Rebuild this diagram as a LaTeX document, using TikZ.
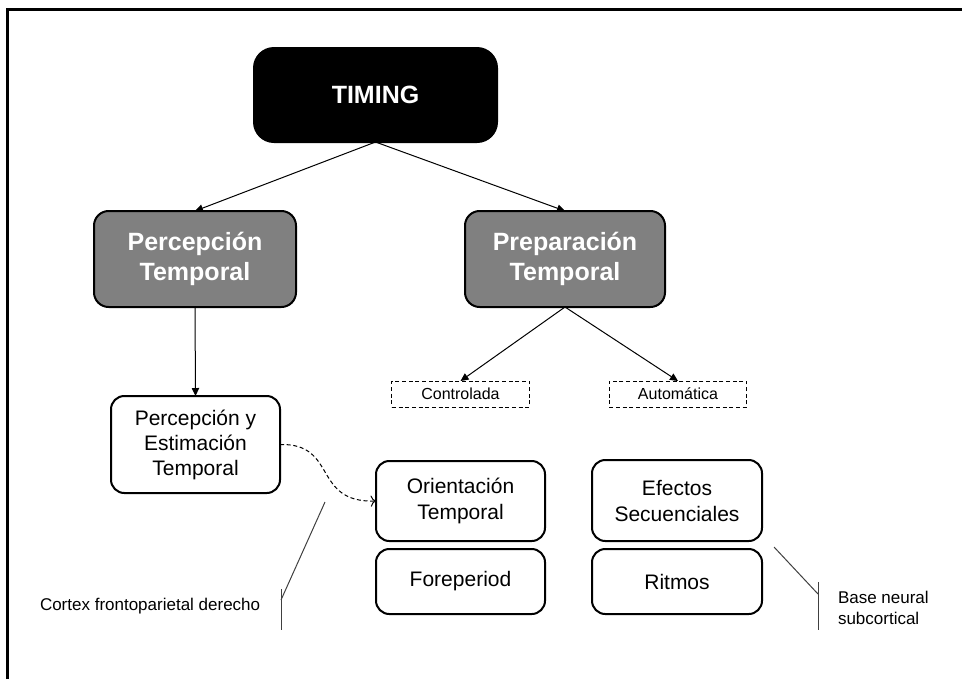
\documentclass[tikz,border=0pt]{standalone}
\usepackage{fontspec}
\setmainfont{Liberation Sans}
\usetikzlibrary{arrows.meta}
\tikzset{
  mainbox/.style={draw=black,line width=1.5pt,rounded corners=11pt,align=center,
    text=white,font=\bfseries\fontsize{18.75}{22.5}\selectfont},
  subbox/.style={draw=black,fill=white,line width=1.5pt,rounded corners=10pt,
    align=center,font=\fontsize{15.75}{19.5}\selectfont,minimum width=126.75pt},
  optbox/.style={draw=black,line width=0.75pt,dash pattern=on 3pt off 2pt,
    font=\fontsize{12}{14}\selectfont,minimum width=103pt,minimum height=19.5pt},
  link/.style={draw=black,line width=0.75pt,-{Triangle[length=6pt,width=5.5pt]}},
  note/.style={font=\fontsize{12.75}{15.75}\selectfont,align=left},
  callout/.style={draw=black!75,line width=0.75pt},
}

\begin{document}
\begin{tikzpicture}[y=0.75pt, x=0.75pt, yscale=-1.000000, xscale=1.000000, inner sep=0pt, outer sep=0pt]
  \useasboundingbox (0,0) rectangle (962,679);
  % frame
  \path[draw=black,line width=2.25pt] (7,679) -- (7,9) -- (962,9);

  % top levels
  \node[mainbox,fill=black,rounded corners=15pt,minimum width=182.25pt,
    minimum height=70.5pt] (timing) at (375.5,95) {TIMING};
  \node[mainbox,fill=black!50,minimum width=151.5pt,minimum height=72pt]
    (percep) at (195,259) {Percepción\\Temporal};
  \node[mainbox,fill=black!50,minimum width=150pt,minimum height=72pt]
    (prepar) at (565,259) {Preparación\\Temporal};
  \path[link] (timing.south) -- (percep.north);
  \path[link] (timing.south) -- (prepar.north);

  % preparacion
  \node[optbox] (contr) at (460.5,394) {Controlada};
  \node[optbox] (autom) at (678,394) {Automática};
  \path[link] (prepar.south) -- (contr.north);
  \path[link] (prepar.south) -- (autom.north);

  % percepcion
  \node[subbox,minimum height=72.75pt,font=\fontsize{15.75}{18.75}\selectfont]
    (percest) at (195.5,444.5) {Percepción y\\Estimación\\Temporal};
  \path[link] (percep.south) -- (percest.north);

  \node[subbox,minimum height=60pt] (orient) at (460.5,501) {Orientación\\Temporal};
  \node[subbox,minimum height=48.75pt] (foreper) at (460.5,581.5) {Foreperiod};
  \node[subbox,minimum height=60.75pt,minimum width=127.5pt] (efect) at (677,500.5)
    {Efectos\\Secuenciales};
  \node[subbox,minimum height=48.75pt,minimum width=127.5pt] (ritmos) at (677,581.5)
    {Ritmos};
  \path[draw=black,line width=0.75pt,dash pattern=on 3pt off 2pt,-{To[length=4pt]}]
    (percest.east) .. controls (338,443) and (312,503) .. (orient.west);

  % bases neurales
  \node[note,anchor=west] (cortex) at (40,606) {Cortex frontoparietal derecho};
  \coordinate (cxa) at (325,502);
  \coordinate (cxb) at (281,600);
  \coordinate (cxc) at (281,589);
  \coordinate (cxd) at (281,630);
  \path[callout] (cxa) -- (cxb);
  \path[callout] (cxc) -- (cxd);

  \node[note,anchor=west] (basen) at (838,608) {Base neural\\subcortical};
  \coordinate (bna) at (774,547);
  \coordinate (bnb) at (818,594);
  \coordinate (bnc) at (818,582);
  \coordinate (bnd) at (818,630);
  \path[callout] (bna) -- (bnb);
  \path[callout] (bnc) -- (bnd);

\end{tikzpicture}
\end{document}
